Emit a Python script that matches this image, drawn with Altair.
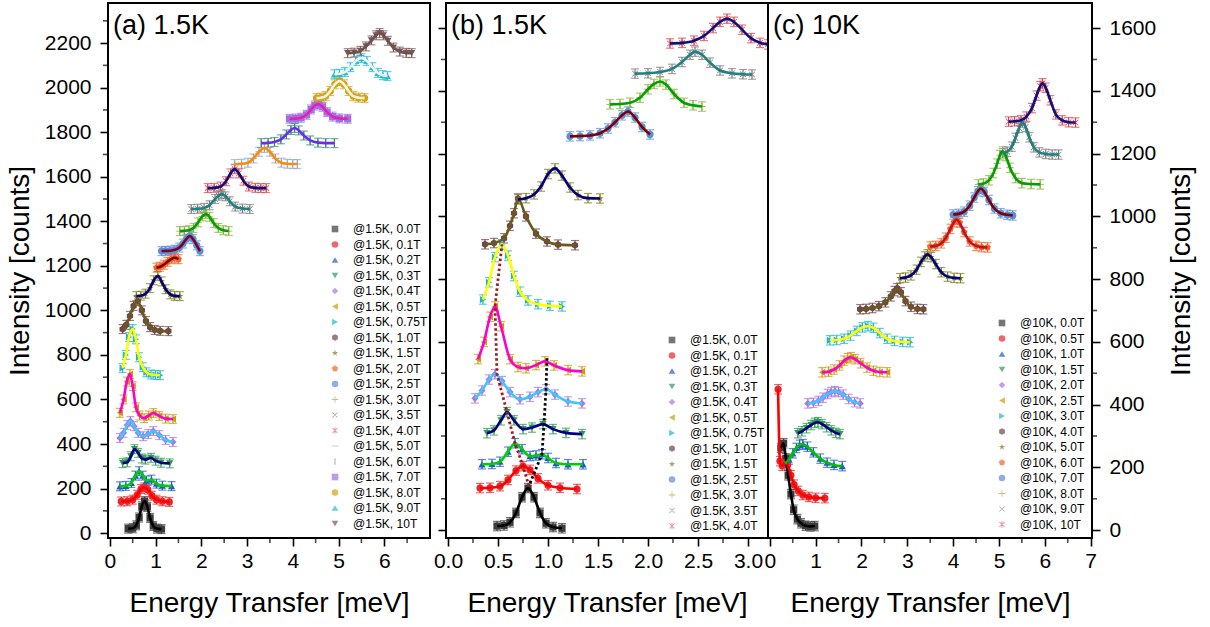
import altair as alt
import pandas as pd

FONT = "Liberation Sans"

# ---------------- symbol slots (Origin default sequence) ----------------
SLOT_COLORS = ["#3c3c3c", "#e8262b", "#1f5bc6", "#2f9a55", "#a877e0", "#c89b0c", "#1fb6cc",
               "#6e4646", "#7e7e1c", "#f26522", "#5d8fd8", "#8db33a", "#7a7a7a", "#d9434e",
               "#8fa8c8", "#2f8c74", "#a070e0", "#d1a21b", "#22bdd4", "#7a5757"]
HEX = "M0,-1L0.866,-0.5L0.866,0.5L0,1L-0.866,0.5L-0.866,-0.5Z"
STAR = ("M0,-1L0.235,-0.324L0.951,-0.309L0.38,0.124L0.588,0.809L0,0.4L-0.588,0.809"
        "L-0.38,0.124L-0.951,-0.309L-0.235,-0.324Z")
PENT = "M0,-1L0.951,-0.309L0.588,0.809L-0.588,0.809L-0.951,-0.309Z"
PLUS = "M-1,-0.12H-0.12V-1H0.12V-0.12H1V0.12H0.12V1H-0.12V0.12H-1Z"
XMARK = "M-0.7,-0.85L0.85,0.7L0.7,0.85L-0.85,-0.7ZM-0.7,0.85L0.85,-0.7L0.7,-0.85L-0.85,0.7Z"
ASTER = "M-0.12,-1L0.12,-1L0.12,1L-0.12,1Z" + XMARK
HBAR = "M-1,-0.12H1V0.12H-1Z"
VBAR = "M-0.12,-1H0.12V1H-0.12Z"
SLOT_SHAPES = ["square", "circle", "triangle-up", "triangle-down", "diamond", "triangle-left",
               "triangle-right", HEX, STAR, PENT, "circle", PLUS, XMARK, ASTER, HBAR, VBAR,
               "square", "circle", "triangle-up", "triangle-down"]

# ---------------- panel (a) 1.5 K ----------------
A_LABELS = ["@1.5K, 0.0T", "@1.5K, 0.1T", "@1.5K, 0.2T", "@1.5K, 0.3T", "@1.5K, 0.4T",
            "@1.5K, 0.5T", "@1.5K, 0.75T", "@1.5K, 1.0T", "@1.5K, 1.5T", "@1.5K, 2.0T",
            "@1.5K, 2.5T", "@1.5K, 3.0T", "@1.5K, 3.5T", "@1.5K, 4.0T", "@1.5K, 5.0T",
            "@1.5K, 6.0T", "@1.5K, 7.0T", "@1.5K, 8.0T", "@1.5K, 9.0T", "@1.5K, 10T"]
A_SLOTS = list(range(20))
A_LINE = ["#000000", "#ff0000", "#00d000", "#000080", "#3cc8ff", "#ff00cc", "#ffff00",
          "#6b5a1e", "#000080", "#800000", "#800020", "#00a000", "#208080", "#10107a",
          "#ff8c00", "#6a2ee8", "#e51fb4", "#fff5dc", "#f2f2f2", "#6e5050"]
A_E = [
    [0.40, 0.50, 0.58, 0.64, 0.70, 0.76, 0.82, 0.88, 0.95, 1.03, 1.13],
    [0.25, 0.38, 0.50, 0.60, 0.68, 0.75, 0.83, 0.92, 1.02, 1.15, 1.30],
    [0.22, 0.35, 0.47, 0.56, 0.64, 0.72, 0.80, 0.91, 1.02, 1.15, 1.35],
    [0.28, 0.38, 0.46, 0.54, 0.62, 0.70, 0.78, 0.90, 1.00, 1.12, 1.31],
    [0.22, 0.30, 0.38, 0.45, 0.53, 0.62, 0.73, 0.84, 0.95, 1.08, 1.22, 1.38],
    [0.22, 0.30, 0.37, 0.44, 0.50, 0.57, 0.65, 0.75, 0.85, 0.95, 1.08, 1.22, 1.38],
    [0.28, 0.35, 0.42, 0.50, 0.57, 0.64, 0.72, 0.80, 0.90, 1.00, 1.10],
    [0.28, 0.36, 0.44, 0.52, 0.61, 0.70, 0.79, 0.88, 0.98, 1.10, 1.28],
    [0.58, 0.68, 0.78, 0.88, 0.96, 1.05, 1.13, 1.22, 1.32, 1.42, 1.53],
    [1.02, 1.10, 1.18, 1.26, 1.34, 1.42, 1.50],
    [1.13, 1.22, 1.32, 1.42, 1.52, 1.60, 1.68, 1.75, 1.82, 1.90, 1.97],
    [1.53, 1.63, 1.73, 1.83, 1.93, 2.02, 2.10, 2.18, 2.27, 2.37, 2.48, 2.60],
    [1.78, 1.92, 2.06, 2.18, 2.30, 2.38, 2.45, 2.53, 2.62, 2.74, 2.90, 3.06],
    [2.14, 2.28, 2.42, 2.54, 2.64, 2.73, 2.82, 2.92, 3.04, 3.18, 3.30, 3.42],
    [2.73, 2.88, 3.02, 3.14, 3.26, 3.38, 3.50, 3.62, 3.75, 3.88, 4.00, 4.10],
    [3.31, 3.46, 3.60, 3.74, 3.86, 3.96, 4.04, 4.13, 4.24, 4.38, 4.55, 4.72, 4.91],
    [3.93, 4.06, 4.18, 4.30, 4.40, 4.48, 4.56, 4.65, 4.75, 4.87, 5.02, 5.20],
    [4.52, 4.62, 4.72, 4.82, 4.92, 5.02, 5.12, 5.22, 5.32, 5.44, 5.57],
    [4.91, 5.02, 5.14, 5.26, 5.38, 5.50, 5.62, 5.74, 5.86, 5.97, 6.07],
    [5.20, 5.34, 5.48, 5.60, 5.72, 5.82, 5.90, 5.98, 6.08, 6.20, 6.34, 6.48, 6.60],
]
A_I = [
    [20, 22, 35, 70, 120, 144, 118, 68, 32, 20, 18],
    [142, 143, 150, 172, 198, 205, 195, 168, 150, 143, 140],
    [210, 212, 225, 258, 278, 258, 236, 240, 222, 213, 211],
    [314, 318, 345, 377, 360, 335, 330, 338, 325, 316, 313],
    [427, 450, 485, 503, 480, 450, 435, 445, 458, 440, 418, 409],
    [540, 600, 680, 714, 660, 565, 528, 516, 528, 539, 526, 514, 512],
    [741, 800, 880, 916, 870, 790, 745, 722, 712, 710, 709],
    [916, 935, 975, 1020, 1042, 1000, 952, 925, 912, 908, 907],
    [1064, 1066, 1075, 1100, 1135, 1154, 1130, 1095, 1072, 1065, 1064],
    [1192, 1196, 1205, 1218, 1230, 1236, 1230],
    [1266, 1267, 1268, 1272, 1282, 1300, 1322, 1334, 1320, 1292, 1266],
    [1356, 1357, 1360, 1370, 1395, 1422, 1432, 1420, 1392, 1370, 1360, 1356],
    [1455, 1456, 1460, 1472, 1500, 1515, 1522, 1512, 1490, 1466, 1457, 1455],
    [1549, 1550, 1556, 1580, 1615, 1634, 1615, 1582, 1556, 1550, 1549, 1549],
    [1657, 1658, 1663, 1682, 1712, 1729, 1712, 1682, 1663, 1658, 1657, 1657],
    [1751, 1752, 1756, 1768, 1790, 1810, 1819, 1808, 1785, 1763, 1753, 1751, 1751],
    [1860, 1861, 1865, 1878, 1902, 1920, 1926, 1914, 1890, 1870, 1862, 1860],
    [1953, 1955, 1962, 1985, 2015, 2030, 2015, 1985, 1962, 1955, 1953],
    [2060, 2062, 2070, 2092, 2120, 2133, 2120, 2092, 2066, 2056, 2052],
    [2155, 2157, 2165, 2185, 2212, 2235, 2245, 2235, 2210, 2180, 2162, 2156, 2155],
]
A_ERR = 20

# ---------------- panel (b) 1.5 K ----------------
B_LABELS = ["@1.5K, 0.0T", "@1.5K, 0.1T", "@1.5K, 0.2T", "@1.5K, 0.3T", "@1.5K, 0.4T",
            "@1.5K, 0.5T", "@1.5K, 0.75T", "@1.5K, 1.0T", "@1.5K, 1.5T", "@1.5K, 2.5T",
            "@1.5K, 3.0T", "@1.5K, 3.5T", "@1.5K, 4.0T"]
B_SLOTS = [0, 1, 2, 3, 4, 5, 6, 7, 8, 10, 11, 12, 13]
B_LINE = ["#000000", "#ff0000", "#00d000", "#000080", "#3cc8ff", "#ff00cc", "#ffff00",
          "#6b5a1e", "#000080", "#800000", "#00a000", "#208080", "#10107a"]
B_E = [
    [0.49, 0.56, 0.62, 0.68, 0.74, 0.80, 0.86, 0.92, 0.98, 1.05, 1.14],
    [0.32, 0.42, 0.52, 0.60, 0.68, 0.75, 0.82, 0.90, 1.00, 1.12, 1.29],
    [0.34, 0.44, 0.52, 0.60, 0.67, 0.74, 0.82, 0.88, 0.94, 1.00, 1.08, 1.20, 1.35],
    [0.39, 0.46, 0.53, 0.59, 0.66, 0.75, 0.84, 0.95, 1.05, 1.18, 1.34],
    [0.27, 0.34, 0.41, 0.47, 0.54, 0.62, 0.72, 0.82, 0.90, 0.98, 1.07, 1.20, 1.34],
    [0.30, 0.36, 0.42, 0.47, 0.53, 0.62, 0.70, 0.78, 0.88, 0.97, 1.06, 1.20, 1.34],
    [0.35, 0.41, 0.47, 0.54, 0.60, 0.66, 0.72, 0.80, 0.90, 1.02, 1.14],
    [0.37, 0.46, 0.56, 0.62, 0.66, 0.70, 0.78, 0.88, 0.99, 1.10, 1.27],
    [0.70, 0.78, 0.86, 0.93, 1.00, 1.07, 1.14, 1.22, 1.30, 1.40, 1.52],
    [1.22, 1.32, 1.42, 1.52, 1.60, 1.67, 1.74, 1.80, 1.87, 1.94, 2.02],
    [1.62, 1.72, 1.82, 1.92, 2.00, 2.06, 2.12, 2.18, 2.26, 2.36, 2.45, 2.54],
    [1.87, 2.00, 2.12, 2.24, 2.34, 2.42, 2.47, 2.54, 2.62, 2.72, 2.84, 2.95, 3.04],
    [2.22, 2.34, 2.46, 2.56, 2.65, 2.72, 2.79, 2.86, 2.94, 3.03, 3.12, 3.20],
]
B_I = [
    [13, 15, 25, 55, 105, 134, 105, 55, 22, 10, 6],
    [134, 135, 140, 160, 190, 204, 192, 165, 143, 135, 131],
    [210, 211, 218, 250, 277, 258, 236, 238, 242, 230, 214, 210, 210],
    [309, 318, 350, 376, 350, 322, 327, 338, 322, 310, 306],
    [420, 445, 480, 497, 475, 440, 417, 425, 440, 449, 432, 410, 404],
    [545, 600, 680, 713, 650, 545, 520, 516, 526, 538, 525, 510, 506],
    [735, 790, 870, 911, 875, 810, 760, 732, 720, 715, 713],
    [911, 915, 930, 970, 1010, 1057, 1000, 945, 920, 910, 908],
    [1054, 1058, 1070, 1095, 1135, 1153, 1130, 1092, 1068, 1058, 1057],
    [1255, 1256, 1258, 1265, 1280, 1300, 1322, 1334, 1315, 1285, 1261],
    [1357, 1358, 1362, 1378, 1405, 1422, 1430, 1420, 1390, 1362, 1354, 1350],
    [1455, 1456, 1460, 1470, 1492, 1515, 1525, 1515, 1490, 1465, 1456, 1453, 1452],
    [1551, 1553, 1560, 1575, 1600, 1620, 1630, 1620, 1595, 1568, 1553, 1548],
]
B_ERR = 15
# dotted guide lines through the split peaks
B_GUIDE_RED_E = [0.81, 0.75, 0.67, 0.59, 0.49, 0.47, 0.54]
B_GUIDE_RED_I = [140, 204, 277, 376, 497, 713, 911]
B_GUIDE_BLACK_E = [0.82, 0.94, 0.96, 0.98, 0.99]
B_GUIDE_BLACK_I = [150, 242, 338, 449, 548]

# ---------------- panel (c) 10 K ----------------
C_LABELS = ["@10K, 0.0T", "@10K, 0.5T", "@10K, 1.0T", "@10K, 1.5T", "@10K, 2.0T",
            "@10K, 2.5T", "@10K, 3.0T", "@10K, 4.0T", "@10K, 5.0T", "@10K, 6.0T",
            "@10K, 7.0T", "@10K, 8.0T", "@10K, 9.0T", "@10K, 10T"]
C_SLOTS = list(range(14))
C_LINE = ["#000000", "#ff0000", "#00c000", "#000080", "#3cc8ff", "#ff00cc", "#ffff00",
          "#6b5a1e", "#000080", "#c0102a", "#800000", "#00a000", "#208080", "#10107a"]
C_E = [
    [0.24, 0.30, 0.35, 0.40, 0.46, 0.52, 0.60, 0.68, 0.78, 0.88, 0.98],
    [0.18, 0.22, 0.27, 0.33, 0.39, 0.46, 0.53, 0.62, 0.72, 0.85, 1.00, 1.20],
    [0.33, 0.42, 0.50, 0.58, 0.65, 0.72, 0.82, 0.95, 1.10, 1.25, 1.40, 1.58],
    [0.61, 0.70, 0.80, 0.90, 0.98, 1.05, 1.14, 1.24, 1.34, 1.44, 1.53],
    [0.83, 0.95, 1.06, 1.16, 1.26, 1.34, 1.42, 1.50, 1.60, 1.72, 1.85, 1.97],
    [1.14, 1.28, 1.40, 1.52, 1.62, 1.70, 1.77, 1.86, 1.98, 2.12, 2.26, 2.40, 2.56],
    [1.31, 1.46, 1.62, 1.76, 1.90, 2.02, 2.14, 2.26, 2.40, 2.56, 2.72, 2.90, 3.06],
    [1.97, 2.10, 2.24, 2.38, 2.52, 2.64, 2.72, 2.78, 2.86, 2.96, 3.08, 3.22, 3.35],
    [2.84, 2.96, 3.08, 3.20, 3.30, 3.38, 3.44, 3.52, 3.62, 3.74, 3.88, 4.02, 4.16],
    [3.50, 3.62, 3.74, 3.84, 3.94, 4.02, 4.07, 4.14, 4.24, 4.36, 4.50, 4.62, 4.75],
    [4.00, 4.12, 4.24, 4.36, 4.46, 4.54, 4.60, 4.68, 4.78, 4.90, 5.04, 5.18, 5.30],
    [4.55, 4.66, 4.78, 4.88, 4.96, 5.02, 5.08, 5.15, 5.24, 5.36, 5.50, 5.70, 5.90],
    [5.08, 5.18, 5.28, 5.36, 5.44, 5.51, 5.58, 5.66, 5.76, 5.88, 6.02, 6.16, 6.30],
    [5.21, 5.34, 5.48, 5.60, 5.72, 5.82, 5.90, 5.95, 6.02, 6.12, 6.24, 6.38, 6.52, 6.67],
]
C_I = [
    [262, 277, 229, 175, 115, 65, 35, 22, 14, 12, 13],
    [449, 220, 205, 215, 208, 175, 145, 125, 112, 106, 103, 102],
    [213, 225, 245, 262, 272, 274, 266, 248, 228, 215, 208, 204],
    [309, 315, 325, 335, 342, 344, 338, 328, 318, 310, 306],
    [404, 406, 412, 422, 434, 440, 443, 440, 432, 418, 408, 404],
    [503, 505, 512, 525, 540, 548, 551, 545, 532, 518, 508, 504, 503],
    [605, 606, 610, 620, 635, 646, 650, 645, 628, 610, 603, 600, 599],
    [704, 705, 708, 714, 726, 745, 762, 771, 758, 730, 712, 705, 704],
    [803, 805, 812, 830, 855, 872, 879, 870, 848, 822, 808, 804, 803],
    [904, 906, 914, 932, 960, 982, 990, 980, 950, 920, 906, 902, 901],
    [1006, 1008, 1015, 1034, 1060, 1080, 1089, 1078, 1052, 1025, 1010, 1005, 1003],
    [1102, 1105, 1115, 1138, 1168, 1195, 1207, 1192, 1155, 1122, 1106, 1103, 1102],
    [1201, 1206, 1222, 1250, 1282, 1299, 1285, 1252, 1220, 1204, 1199, 1197, 1197],
    [1302, 1303, 1306, 1318, 1345, 1385, 1415, 1424, 1410, 1370, 1325, 1306, 1300, 1299],
]
C_ERR = 15

# ---------------- axis ticks (major = labelled axis ticks, minor = short ticks) ----------------
A_XMAJOR = [0, 1, 2, 3, 4, 5, 6]
A_XMINOR = [0.5, 1.5, 2.5, 3.5, 4.5, 5.5, 6.5]
B_XMAJOR = [0, 0.5, 1, 1.5, 2, 2.5, 3]
B_XMINOR = [0.25, 0.75, 1.25, 1.75, 2.25, 2.75]
C_XMAJOR = [0, 1, 2, 3, 4, 5, 6, 7]
C_XMINOR = [0.5, 1.5, 2.5, 3.5, 4.5, 5.5, 6.5]
A_YMAJOR = [0, 200, 400, 600, 800, 1000, 1200, 1400, 1600, 1800, 2000, 2200]
A_YMINOR = [100, 300, 500, 700, 900, 1100, 1300, 1500, 1700, 1900, 2100, 2300]
BC_YMAJOR = [0, 200, 400, 600, 800, 1000, 1200, 1400, 1600]
BC_YMINOR = [100, 300, 500, 700, 900, 1100, 1300, 1500]

X_TITLE = "Energy Transfer [meV]"
Y_TITLE = "Intensity [counts]"

PLOT_H = 535
MINOR_LEN = 5


def make_df(labels, es, ints, slots, line_colors, err):
    rows = []
    for k, lab in enumerate(labels):
        for e, v in zip(es[k], ints[k]):
            rows.append({"label": lab, "E": e, "I": v, "lo": v - err, "hi": v + err,
                         "mc": SLOT_COLORS[slots[k]], "lc": line_colors[k]})
    return pd.DataFrame(rows)


def panel(labels, es, ints, slots, line_colors, err, xdom, ydom, xaxis, yaxis,
          legend_xy, tag, width, xminor, yminor, yside, extra=None):
    df = make_df(labels, es, ints, slots, line_colors, err)
    base = alt.Chart(df)
    xs = alt.Scale(domain=xdom, nice=False, zero=False)
    ys = alt.Scale(domain=ydom, nice=False, zero=False)

    def X(f):
        return alt.X(f, scale=xs, axis=xaxis)

    def Y(f):
        return alt.Y(f, scale=ys, axis=yaxis)

    errs = base.mark_rule(strokeWidth=1.2, clip=True).encode(
        x=X("E:Q"), y=Y("lo:Q"), y2="hi:Q", color=alt.Color("mc:N", scale=None))
    cap_lo = base.mark_tick(orient="horizontal", size=8, thickness=1.2, clip=True).encode(
        x=X("E:Q"), y=Y("lo:Q"), color=alt.Color("mc:N", scale=None))
    cap_hi = base.mark_tick(orient="horizontal", size=8, thickness=1.2, clip=True).encode(
        x=X("E:Q"), y=Y("hi:Q"), color=alt.Color("mc:N", scale=None))
    leg = alt.Legend(orient="none", legendX=legend_xy[0], legendY=legend_xy[1], title=None,
                     labelFont=FONT, labelFontSize=12, labelColor="black", symbolSize=44,
                     rowPadding=3.5, padding=0, labelOffset=12, symbolStrokeWidth=0,
                     symbolOpacity=1)
    mcolors = [SLOT_COLORS[s] for s in slots]
    mshapes = [SLOT_SHAPES[s] for s in slots]
    marks = base.mark_point(filled=True, size=52, opacity=1, clip=True).encode(
        x=X("E:Q"), y=Y("I:Q"),
        color=alt.Color("label:N", scale=alt.Scale(domain=labels, range=mcolors), legend=leg),
        shape=alt.Shape("label:N", scale=alt.Scale(domain=labels, range=mshapes), legend=leg))
    lines = base.mark_line(strokeWidth=2.6, interpolate="monotone", clip=True).encode(
        x=X("E:Q"), y=Y("I:Q"), detail="label:N",
        stroke=alt.Stroke("lc:N", scale=None), order="E:Q")
    txt = alt.Chart(pd.DataFrame({"t": [tag]})).mark_text(
        font=FONT, fontSize=27, align="left", baseline="alphabetic", color="black").encode(
        text="t:N", x=alt.value(5), y=alt.value(31))
    # minor ticks drawn just outside the frame
    xt = alt.Chart(pd.DataFrame({"v": xminor})).mark_tick(
        orient="vertical", size=MINOR_LEN, thickness=1.6, color="black", clip=False).encode(
        x=X("v:Q"), y=alt.value(PLOT_H + MINOR_LEN / 2))
    xpos = -MINOR_LEN / 2 if yside == "left" else width + MINOR_LEN / 2
    yt = alt.Chart(pd.DataFrame({"v": yminor})).mark_tick(
        orient="horizontal", size=MINOR_LEN, thickness=1.6, color="black", clip=False).encode(
        y=Y("v:Q"), x=alt.value(xpos))
    layers = [errs, cap_lo, cap_hi, marks, lines]
    if extra is not None:
        layers.append(extra(X, Y))
    layers += [xt, yt, txt]
    return alt.layer(*layers).properties(width=width, height=PLOT_H)


common_axis = dict(labelFont=FONT, labelFontSize=21, titleFont=FONT, titleFontSize=28,
                   titleFontWeight="normal", labelColor="black", titleColor="black",
                   tickColor="black", tickWidth=1.6, tickSize=8, domain=False, grid=False,
                   labelOverlap=False, labelFlush=False)

ax_a_x = alt.Axis(values=A_XMAJOR, title=X_TITLE, format="d",
                  labelPadding=4, titlePadding=18, **common_axis)
ax_a_y = alt.Axis(values=A_YMAJOR, title=Y_TITLE, orient="left", format="d",
                  labelPadding=9, titlePadding=10, **common_axis)
ax_b_x = alt.Axis(values=B_XMAJOR, title=X_TITLE, format=".1f",
                  labelPadding=4, titlePadding=18, **common_axis)
ax_b_y = alt.Axis(values=BC_YMAJOR, title=None, orient="left", labels=False, **common_axis)
ax_c_x = alt.Axis(values=C_XMAJOR, title=X_TITLE, format="d",
                  labelPadding=4, titlePadding=18, **common_axis)
ax_c_y = alt.Axis(values=BC_YMAJOR, title=Y_TITLE, orient="right", format="d",
                  labelPadding=9, titlePadding=12, titleAngle=270, titleBaseline="top",
                  **common_axis)


def guides(X, Y):
    rows = []
    for i, (e, v) in enumerate(zip(B_GUIDE_RED_E, B_GUIDE_RED_I)):
        rows.append({"g": "red", "o": i, "E": e, "I": v, "c": "#a01818"})
    for i, (e, v) in enumerate(zip(B_GUIDE_BLACK_E, B_GUIDE_BLACK_I)):
        rows.append({"g": "black", "o": i, "E": e, "I": v, "c": "#000000"})
    return alt.Chart(pd.DataFrame(rows)).mark_line(strokeDash=[2.5, 2.5], strokeWidth=2.8).encode(
        x=X("E:Q"), y=Y("I:Q"), detail="g:N", order="o:Q", stroke=alt.Stroke("c:N", scale=None))


pa = panel(A_LABELS, A_E, A_I, A_SLOTS, A_LINE, A_ERR, [-0.04, 7.0], [-22, 2380],
           ax_a_x, ax_a_y, (221, 220), "(a) 1.5K", 322, A_XMINOR, A_YMINOR, "left")
pb = panel(B_LABELS, B_E, B_I, B_SLOTS, B_LINE, B_ERR, [-0.02, 3.2], [-25, 1680],
           ax_b_x, ax_b_y, (220, 331), "(b) 1.5K", 322, B_XMINOR, BC_YMINOR, "left",
           extra=guides)
pc = panel(C_LABELS, C_E, C_I, C_SLOTS, C_LINE, C_ERR, [-0.04, 7.03], [-25, 1680],
           ax_c_x, ax_c_y, (228, 314), "(c) 10K", 324, C_XMINOR, BC_YMINOR, "right")

inner = alt.hconcat(pb, pc, spacing=0, bounds="flush").resolve_scale(
    color="independent", shape="independent").resolve_legend(
    color="independent", shape="independent")
chart = alt.hconcat(pa, inner, spacing=16, bounds="flush").resolve_scale(
    color="independent", shape="independent").resolve_legend(
    color="independent", shape="independent").properties(
    padding={"left": 5, "top": 2, "right": 5, "bottom": 0}, background="white"
).configure_view(stroke="black", strokeWidth=2)

chart.save("out.html", embed_options={"renderer": "svg", "actions": False})
